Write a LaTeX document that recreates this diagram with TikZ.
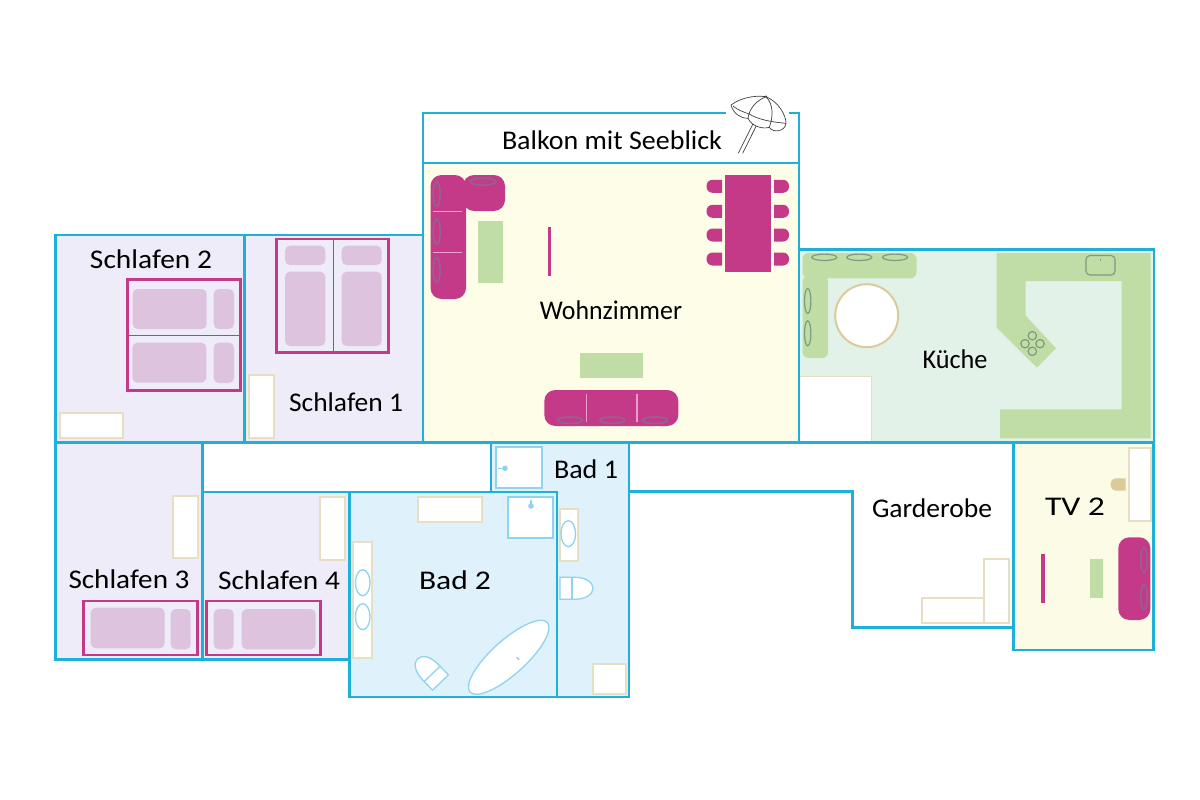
\documentclass[tikz,border=0pt]{standalone}
\usepackage{graphicx}
\usepackage{fontspec}
\setmainfont{Carlito}
\definecolor{wall}{HTML}{1FB0DA}
\definecolor{magent}{HTML}{C43A88}
\definecolor{bedfill}{HTML}{DEC3DF}
\definecolor{lilac}{HTML}{EDECF8}
\definecolor{cream}{HTML}{FEFEE8}
\definecolor{creamb}{HTML}{FCFBE6}
\definecolor{mint}{HTML}{E2F2E8}
\definecolor{sky}{HTML}{DFF1FB}
\definecolor{leaf}{HTML}{BFDDA5}
\definecolor{tan}{HTML}{E6DFC4}
\definecolor{tandark}{HTML}{DBCB9B}
\definecolor{fixt}{HTML}{8FD3F0}
\definecolor{cushion}{HTML}{96608F}
\definecolor{gcush}{HTML}{7F9A80}
\definecolor{seam}{HTML}{EE9CCB}
\tikzset{
  room/.style={draw=wall,line width=2.6pt},
  furn/.style={draw=tan,line width=2pt,fill=white},
  bedframe/.style={draw=magent,line width=2.6pt,fill=lilac},
  bedline/.style={draw=magent,line width=1.3pt},
  cover/.style={fill=bedfill,rounded corners=5pt},
  sofa/.style={fill=magent,rounded corners=11pt},
  solidm/.style={fill=magent},
  solidg/.style={fill=leaf},
  cush/.style={draw=cushion,line width=1.7pt},
  gc/.style={draw=gcush,line width=1.2pt},
  seamline/.style={draw=seam,line width=1.3pt},
  fix/.style={draw=fixt,line width=1.3pt,fill=white},
  fixfat/.style={draw=fixt,line width=2pt,fill=white},
  umb/.style={draw=black!75,line width=.7pt},
  lbl/.style={font=\fontsize{27}{30}\selectfont,text=black,inner sep=0pt,anchor=center}
}
\newcommand{\lab}[2]{\resizebox{#1pt}{\height}{#2}}
\newcommand{\chairL}[1]{\fill[magent] (722,#1-6.5) [rounded corners=6pt] -- (706.5,#1-6.5) -- (706.5,#1+6.5) [sharp corners] -- (722,#1+6.5) -- cycle;}
\newcommand{\chairR}[1]{\fill[magent] (774,#1-6.5) [rounded corners=6pt] -- (789,#1-6.5) -- (789,#1+6.5) [sharp corners] -- (774,#1+6.5) -- cycle;}
\newcommand{\toilet}{%
  \draw[fix] (0,-11) -- (14,-11) .. controls (26,-11) and (33,-6) .. (33,0) .. controls (33,6) and (26,11) .. (14,11) -- (0,11) -- cycle;
  \draw[fix] (12,-11) -- (12,11);}
\begin{document}
\begin{tikzpicture}[x=1pt,y=-1pt]
\useasboundingbox (0,0) rectangle (1200,800);
\fill[white] (0,0) rectangle (1200,800);

% room fills
\fill[cream] (423,163) rectangle (799,442);
\fill[lilac] (55.5,235) rectangle (423,442);
\fill[lilac] (55.5,443) rectangle (202.7,659.3);
\fill[lilac] (202.7,492) rectangle (349,659.3);
\fill[mint] (799,249.5) rectangle (1154,442);
\fill[sky] (491,443) rectangle (629,697);
\fill[sky] (349,492) rectangle (557,697);
\fill[creamb] (1013.5,443) rectangle (1153.5,650);

% walls
\draw[room] (423,113) rectangle (799,163);
\draw[room] (423,163) rectangle (799,442);
\draw[room] (55.5,235) rectangle (244.3,442.5);
\draw[room] (244.3,235) rectangle (423,442.5);
\draw[room] (799,249.5) rectangle (1154,442.5);
\draw[room] (55.5,443) rectangle (202.7,659.3);
\draw[room] (202.7,492) rectangle (349.5,659.3);
\draw[room] (202.7,443) -- (491,443);
\draw[room] (491,491.8) -- (491,443) -- (629,443) -- (629,697) -- (557,697);
\draw[room] (349.5,491.8) rectangle (557,697);
\draw[room] (629,491.7) -- (852.3,491.7) -- (852.3,627.5) -- (1013.5,627.5);
\draw[room] (629,443) -- (1013.5,443);
\draw[room] (1013.5,443) rectangle (1153.5,650);

% umbrella
\fill[white] (726,92) rectangle (788.5,153.5);
\draw[umb] (753.3,123.3) -- (738.3,153.3);
\draw[umb] (756.7,125) -- (742.7,153.3);
\draw[umb,fill=white] (731,105) .. controls (740,98.3) and (753.3,95) .. (766,96.7)
  .. controls (778.3,101.7) and (786,115) .. (786,123.3)
  .. controls (785,131.7) and (773.3,133.3) .. (769.3,127.3)
  .. controls (763.3,129.3) and (751.7,126.7) .. (748,118.3)
  .. controls (740,118.3) and (733.3,113.3) .. (731,105) -- cycle;
\draw[umb] (766,96.7) .. controls (755,101) and (749,110) .. (748,118.3);
\draw[umb] (766,96.7) .. controls (774,105) and (773,117) .. (769.3,127.3);
\draw[umb] (733,106) .. controls (738,110) and (743,112) .. (749.3,114) .. controls (757,119) and (770,122) .. (786,123.3);
\fill[black!75] (766,96.5) circle (1.2pt);

% Wohnzimmer furniture
\fill[sofa] (430.5,175) rectangle (466,299);
\fill[sofa] (463,175) rectangle (505,211);
\draw[seamline] (433,211.5) -- (462,211.5);
\draw[seamline] (433,252.5) -- (462,252.5);
\draw[cush] (436.7,194) ellipse (3.5pt and 12.5pt);
\draw[cush] (436.7,231.7) ellipse (3.5pt and 12.5pt);
\draw[cush] (436.7,270) ellipse (3.5pt and 12.5pt);
\draw[cush] (483,181.7) ellipse (13pt and 3.5pt);
\fill[solidg] (477.7,221) rectangle (503,283);
\fill[solidm] (548,227) rectangle (551,276);
\fill[solidm] (725,175) rectangle (771,272);
\chairL{186.3}\chairL{211.3}\chairL{235}\chairL{259}
\chairR{186.3}\chairR{211.3}\chairR{235}\chairR{259}
\fill[solidg] (580,353.3) rectangle (642.7,378.3);
\fill[sofa] (544.3,390) rectangle (678.3,426);
\draw[seamline] (586.3,394.3) -- (586.3,422);
\draw[seamline] (637,394.3) -- (637,422);
\draw[cush] (570,420.3) ellipse (12.5pt and 3.3pt);
\draw[cush] (612.3,420.3) ellipse (12.5pt and 3.3pt);
\draw[cush] (655,420.3) ellipse (12.5pt and 3.3pt);

% Kueche
\fill[leaf,rounded corners=6pt] (802.5,253) rectangle (916.5,278.3);
\fill[leaf,rounded corners=6pt] (802.5,276) rectangle (828,358);
\draw[gc] (824.3,257.3) ellipse (12.5pt and 3.2pt);
\draw[gc] (859.3,257.3) ellipse (12.5pt and 3.2pt);
\draw[gc] (895,257.3) ellipse (12.5pt and 3.2pt);
\draw[gc] (807.7,301) ellipse (3.2pt and 12.5pt);
\draw[gc] (807.7,333.3) ellipse (3.2pt and 12.5pt);
\draw[draw=tandark,line width=2pt,fill=white] (866.7,315.7) circle (31.5pt);
\fill[white] (800.3,376.5) rectangle (871.5,441);
\draw[tan,line width=1.3pt] (800.3,376.5) -- (871.5,376.5) -- (871.5,441);
\fill[leaf] (996.7,253) -- (1150.7,253) -- (1150.7,438.3) -- (1000,438.3) -- (1000,409.3) -- (1121.7,409.3) -- (1121.7,281) -- (1025.7,281) -- (1025.7,315.7) -- (1056,348.3) -- (1037,367.7) -- (996.7,327.7) -- cycle;
\draw[gc,rounded corners=4pt] (1086,255.5) rectangle (1115,275);
\draw[gc] (1100.7,258.5) -- (1100.7,261);
\draw[gc] (1032.3,335.7) circle (4.2pt);
\draw[gc] (1025,343.7) circle (4.2pt);
\draw[gc] (1040,343.7) circle (4.2pt);
\draw[gc] (1032.3,351.3) circle (4.2pt);

% Schlafen 2
\draw[bedframe] (127.3,279.3) rectangle (240.7,390.7);
\draw[bedline] (127.3,335.3) -- (240.7,335.3);
\fill[cover] (132.7,289) rectangle (206.7,329);
\fill[cover] (213.7,289) rectangle (234,329);
\fill[cover] (132.3,342.7) rectangle (206.3,382.7);
\fill[cover] (213.7,342.7) rectangle (234,383);
\draw[furn] (60,413.3) rectangle (123.3,437.7);
% Schlafen 1
\draw[bedframe] (276.7,239) rectangle (388.7,352.7);
\draw[bedline] (333.3,239) -- (333.3,352.7);
\fill[cover] (285,245.7) rectangle (325.3,265);
\fill[cover] (341.7,245.7) rectangle (381.7,265);
\fill[cover] (285,271.7) rectangle (325.3,346);
\fill[cover] (341.7,271.7) rectangle (381.7,346);
\draw[furn] (249,375) rectangle (274,437.7);
% Schlafen 3
\draw[furn] (173.3,495.7) rectangle (198.3,558.3);
\draw[bedframe] (83.7,601) rectangle (197.7,655);
\fill[cover] (90.7,607.7) rectangle (164.7,648.3);
\fill[cover] (170.7,609) rectangle (190.7,649.3);
% Schlafen 4
\draw[furn] (320.3,497.3) rectangle (345.3,560);
\draw[bedframe] (206.7,601) rectangle (320.7,655);
\fill[cover] (213.7,609) rectangle (233.7,649.3);
\fill[cover] (241.7,609) rectangle (315.7,649.3);

% Bad 1
\draw[fixfat] (495.7,446.7) rectangle (541.7,488.3);
\draw[draw=fixt,line width=1.3pt] (498.3,468.3) -- (505,468.3);
\fill[fixt] (505,468.3) circle (2.8pt);
\draw[furn] (560,509) rectangle (577.7,560.7);
\draw[fix] (568.3,533.7) ellipse (7.3pt and 13pt);
\begin{scope}[shift={(560,588.3)}]\toilet\end{scope}
\draw[furn] (592.7,664.3) rectangle (626,694.3);
% Bad 2
\draw[fixfat] (508.3,496.7) rectangle (553.3,538.3);
\draw[draw=fixt,line width=1.3pt] (531,500) -- (531,506);
\fill[fixt] (531,506) circle (2.8pt);
\draw[furn] (418.3,497.3) rectangle (482.3,521.7);
\draw[furn] (353.3,542.3) rectangle (371.7,658.3);
\draw[fix] (362.7,582.7) ellipse (7.3pt and 13pt);
\draw[fix] (362.7,616.7) ellipse (7.3pt and 13pt);
\begin{scope}[shift={(508.7,657.3)},rotate=42]
  \draw[fix] (0,0) ellipse (52pt and 17pt);
  \draw[draw=fixt,line width=1.3pt] (6,5) -- (6,9);
\end{scope}
\begin{scope}[shift={(440.5,682.5)},rotate=134]\toilet\end{scope}

% Garderobe
\draw[furn] (984.3,559.3) rectangle (1009.3,622.7);
\draw[furn] (921.7,597.7) rectangle (984.3,622.7);

% TV 2
\draw[furn] (1129.3,448.3) rectangle (1150.7,520.7);
\fill[tandark] (1125.7,478.3) [rounded corners=5pt] -- (1110.7,478.3) -- (1110.7,490.7) [sharp corners] -- (1125.7,490.7) -- cycle;
\fill[solidm] (1040.7,554) rectangle (1044.7,603.3);
\fill[solidg] (1090,559) rectangle (1102.7,597.7);
\fill[sofa] (1118.3,537.3) rectangle (1150.3,620);
\draw[cush] (1144,560) ellipse (3.3pt and 12.5pt);
\draw[cush] (1144,596.7) ellipse (3.3pt and 12.5pt);

% labels
\node[lbl] (balkon) at (612,140) {\lab{220}{Balkon mit Seeblick}};
\node[lbl] (wohn) at (611,310) {\lab{142}{Wohnzimmer}};
\node[lbl] (kueche) at (955,359) {\lab{65}{Küche}};
\node[lbl] (sch2) at (151,259) {\lab{122}{Schlafen 2}};
\node[lbl] (sch1) at (346,402) {\lab{114}{Schlafen 1}};
\node[lbl] (sch3) at (129,579) {\lab{121}{Schlafen 3}};
\node[lbl] (sch4) at (279,580) {\lab{122}{Schlafen 4}};
\node[lbl] (bad1) at (586,469) {\lab{64}{Bad 1}};
\node[lbl] (bad2) at (455,580) {\lab{72}{Bad 2}};
\node[lbl] (gard) at (932,508) {\lab{120}{Garderobe}};
\node[lbl] (tv2) at (1075,507) {\lab{60}{TV 2}};
\end{tikzpicture}
\end{document}
